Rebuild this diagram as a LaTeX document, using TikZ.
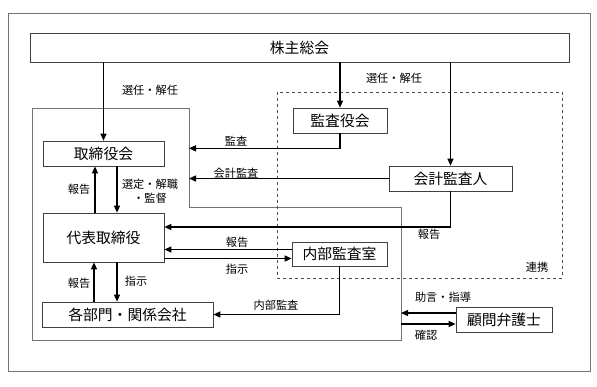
\documentclass[tikz,border=0pt]{standalone}
\usepackage{fontspec}
\newfontfamily\jpfont{Noto Sans CJK JP}
\usetikzlibrary{arrows.meta,calc,positioning}
\tikzset{
  caja/.style={draw=black!75,line width=0.7pt,fill=white,inner sep=0pt,
    font=\jpfont\fontsize{14.8}{16}\selectfont},
  etiq/.style={inner sep=1pt,font=\jpfont\fontsize{11.2}{12}\selectfont},
  flecha/.style={-{Triangle[length=7pt,width=6pt]},line width=1.3pt},
  marco/.style={draw=black!55,line width=0.8pt}
}
\begin{document}
\begin{tikzpicture}[x=1pt,y=-1pt]
\useasboundingbox (0,0) rectangle (597,386);
% marcos
\draw[marco] (8,13) rectangle (590,371);
\draw[marco] (32,108) -- (189,108) -- (189,207) -- (401,207) -- (401,340) -- (32,340) -- cycle;
\coordinate (esqA) at (189,108);
\coordinate (esqB) at (401,207);
\draw[black!70,dashed,line width=0.7pt] (277,92) rectangle (562,278);
\node[etiq] (renkei) at (537,267) {連携};
% cajas
\node[caja,minimum width=539,minimum height=29] (kabunushi) at (299.5,47.5) {株主総会};
\node[caja,minimum width=121,minimum height=25] (torikai) at (103.5,153.5) {取締役会};
\node[caja,minimum width=121,minimum height=49] (daihyo) at (103.5,237.5) {代表取締役};
\node[caja,minimum width=171,minimum height=25] (bumon) at (127.5,314.5) {各部門・関係会社};
\node[caja,minimum width=94,minimum height=25] (kansakai) at (340,120.5) {監査役会};
\node[caja,minimum width=123,minimum height=25] (kaikei) at (450.5,178.5) {会計監査人};
\node[caja,minimum width=95,minimum height=24] (naibu) at (339.5,254) {内部監査室};
\node[caja,minimum width=96,minimum height=25] (bengoshi) at (504,319.5) {顧問弁護士};
% puntos auxiliares
\coordinate (p1) at ([xshift=-8.5pt]daihyo.north);
\coordinate (p2) at ([xshift=13.5pt]daihyo.north);
\coordinate (p3) at ([xshift=-9.5pt]daihyo.south);
\coordinate (p4) at ([xshift=13.5pt]daihyo.south);
\coordinate (p5) at ([yshift=10.5pt]daihyo.east);
\coordinate (b1) at ([yshift=6.5pt]bengoshi.west);
\coordinate (b2) at ([yshift=-4.5pt]bengoshi.west);
% flechas
\draw[flecha] (kabunushi.south -| torikai.north) -- (torikai.north);
\draw[flecha] (kabunushi.south -| kansakai.north) -- (kansakai.north);
\draw[flecha] (kabunushi.south -| kaikei.north) -- (kaikei.north);
\draw[flecha] (kansakai.south) |- ([yshift=-15pt]kansakai.south -| esqA);
\draw[flecha] (kaikei.west) -- (kaikei.west -| esqA);
\draw[flecha] (kaikei.south) |- (p5);
\draw[flecha] (p1) -- (p1 |- torikai.south);
\draw[flecha] (p2 |- torikai.south) -- (p2);
\draw[flecha] (p3 |- bumon.north) -- (p3);
\draw[flecha] (p4) -- (p4 |- bumon.north);
\draw[flecha] ([yshift=4.5pt]naibu.west) -- ([yshift=4.5pt]naibu.west -| daihyo.east);
\draw[flecha] ([yshift=-4.5pt]naibu.west -| daihyo.east) -- ([yshift=-4.5pt]naibu.west);
\draw[flecha] (naibu.south) |- (bumon.east);
\draw[flecha] (b1) -- (b1 -| esqB);
\draw[flecha] (b2 -| esqB) -- (b2);
% etiquetas
\node[etiq] (l1) at (150,90) {選任・解任};
\node[etiq] (l2) at (394,78) {選任・解任};
\node[etiq] (l3) at (236,141) {監査};
\node[etiq] (l4) at (236,173) {会計監査};
\node[etiq] (l5) at (79,189) {報告};
\node[etiq] (l6) at (150,184) {選定・解職};
\node[etiq] (l7) at (150,198) {・監督};
\node[etiq] (l8) at (429,234) {報告};
\node[etiq] (l9) at (237,242) {報告};
\node[etiq] (l10) at (237,269) {指示};
\node[etiq] (l11) at (79,283) {報告};
\node[etiq] (l12) at (136,281) {指示};
\node[etiq] (l13) at (276,305) {内部監査};
\node[etiq] (l14) at (443,297) {助言・指導};
\node[etiq] (l15) at (426,335) {確認};
\end{tikzpicture}
\end{document}
